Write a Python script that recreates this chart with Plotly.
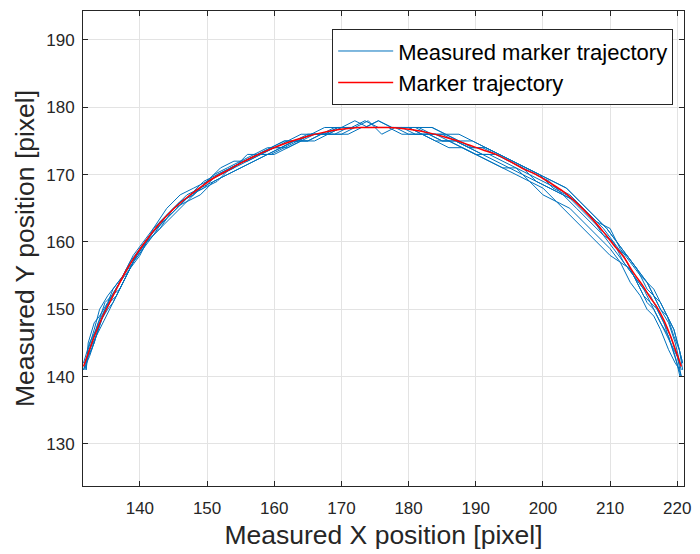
import plotly.graph_objects as go

# Red reference trajectory
red_x = [131.6, 132.5, 133.5, 134.5, 135.5, 136.5, 138, 139.5, 141, 143, 145, 147, 149, 151, 153, 155,
         157, 159, 161, 163, 165, 167, 169, 171, 173, 175, 177, 179, 181, 183, 185, 187, 189, 191, 193,
         195, 197, 199, 201, 203, 205, 207, 209, 210.5, 212, 213.5, 215, 216, 217, 218, 219, 220, 220.6]
red_y = [141.5, 144.0, 146.7, 149.0, 151.0, 153.0, 155.8, 158.2, 160.3, 162.8, 164.9, 166.6, 168.1,
         169.5, 170.6, 171.7, 172.7, 173.6, 174.4, 175.1, 175.7, 176.2, 176.6, 176.85, 177.0, 177.0,
         177.0, 176.85, 176.6, 176.2, 175.7, 175.1, 174.4, 173.7, 173.0, 172.0, 170.9, 170.0, 168.8,
         167.5, 165.8, 163.8, 161.5, 159.6, 157.8, 155.4, 153.3, 151.7, 150.3, 148.4, 146.0, 143.2, 141.5]

# Measured trajectories (x sampling A, B, C)
x_a = red_x
x_b = [131.8, 132.8, 133.8, 134.8, 135.8, 137, 138.5, 140, 141.5, 143.5, 145.5, 147.5, 149.5, 151.5,
       153.5, 155.5, 157.5, 159.5, 161.5, 163.5, 165.5, 167.5, 169.5, 171.5, 173.5, 175.5, 177.5, 179.5,
       181.5, 183.5, 185.5, 187.5, 189.5, 191.5, 193.5, 195.5, 197.5, 199.5, 201.5, 203.5, 205.5, 207.5,
       209.5, 211, 212.5, 214, 215.5, 216.5, 217.5, 218.5, 219.5, 220.3, 220.8]
x_c = [132.0, 132.3, 133.2, 134.0, 135.2, 136.0, 137.5, 139.0, 140.5, 142.0, 144.0, 146.0, 148.0, 150.0,
       152.0, 154.0, 156.0, 158.0, 160.0, 162.0, 164.0, 166.0, 168.0, 170.0, 172.0, 174.0, 176.0, 178.0,
       180.0, 182.0, 184.0, 186.0, 188.0, 190.0, 192.0, 194.0, 196.0, 198.0, 200.0, 202.0, 204.0, 206.0,
       208.0, 210.0, 211.5, 213.0, 214.5, 215.5, 216.5, 217.5, 218.7, 219.7, 220.4]

meas_y1 = [142, 145, 147, 149, 151, 153, 156, 158, 160, 163, 165, 167, 168, 170, 171, 172, 173, 174, 174,
           175, 176, 176, 177, 177, 177, 177, 177, 177, 177, 176, 176, 175, 174, 174, 173, 172, 171, 170,
           169, 167, 166, 164, 161, 160, 158, 155, 153, 152, 150, 148, 146, 143, 141]
meas_y2 = [141, 145, 148, 151, 152, 153, 156, 158, 161, 163, 165, 167, 168, 169, 171, 172, 173, 173, 174,
           175, 176, 176, 177, 177, 177, 178, 177, 177, 177, 176, 176, 175, 175, 174, 173, 172, 171, 170,
           169, 168, 166, 164, 162, 160, 158, 156, 154, 152, 151, 149, 147, 144, 142]
meas_y3 = [141, 143, 146, 148, 150, 152, 155, 158, 160, 162, 164, 166, 168, 169, 170, 171, 172, 173, 174,
           175, 175, 176, 176, 176, 177, 177, 177, 176, 176, 176, 175, 175, 174, 173, 172, 171, 170, 169,
           168, 167, 165, 163, 161, 159, 157, 155, 153, 151, 150, 148, 145, 142, 140]
meas_y4 = [142, 144, 147, 150, 152, 154, 157, 159, 161, 163, 165, 167, 169, 170, 171, 172, 173, 174, 175,
           175, 176, 177, 177, 177, 178, 177, 177, 177, 177, 177, 176, 175, 174, 174, 173, 172, 171, 170,
           168, 167, 165, 163, 161, 159, 158, 156, 153, 152, 150, 149, 146, 144, 141]
meas_y5 = [141, 144, 146, 149, 151, 152, 155, 158, 160, 162, 165, 166, 167, 169, 170, 171, 172, 173, 174,
           175, 175, 176, 176, 177, 177, 177, 177, 177, 176, 176, 175, 175, 174, 173, 173, 172, 171, 169,
           168, 167, 166, 164, 162, 160, 157, 155, 152, 151, 149, 147, 145, 143, 140]
meas_y6 = [142, 145, 148, 150, 152, 154, 156, 159, 161, 163, 165, 167, 168, 170, 171, 172, 173, 174, 175,
           175, 176, 176, 177, 177, 177, 178, 177, 177, 177, 177, 176, 176, 175, 174, 173, 172, 171, 170,
           169, 168, 166, 164, 162, 160, 158, 156, 154, 153, 151, 149, 147, 144, 142]
meas_y7 = [141, 144, 147, 150, 152, 153, 155, 157, 159, 161, 164, 166, 167, 169, 170, 171, 173, 173, 174,
           174, 175, 176, 176, 177, 177, 178, 176, 177, 177, 176, 176, 175, 174, 173, 173, 172, 171, 170,
           169, 168, 167, 165, 163, 162, 159, 157, 155, 154, 152, 150, 148, 145, 142]
meas_y8 = [142, 143, 145, 148, 150, 151, 154, 157, 159, 162, 164, 166, 167, 169, 170, 171, 172, 173, 173,
           174, 175, 175, 176, 176, 177, 177, 177, 177, 176, 176, 175, 174, 174, 173, 172, 171, 170, 169,
           167, 166, 164, 162, 160, 158, 157, 154, 152, 150, 149, 147, 144, 142, 141]
meas_y9 = [141, 145, 148, 149, 151, 153, 155, 158, 160, 162, 165, 167, 168, 169, 171, 172, 172, 173, 174,
           175, 176, 176, 176, 177, 178, 177, 177, 177, 177, 176, 175, 175, 174, 173, 172, 171, 171, 169,
           168, 166, 165, 163, 161, 159, 157, 156, 153, 151, 150, 148, 146, 143, 140]

measured = [(x_a, meas_y1), (x_b, meas_y2), (x_a, meas_y3), (x_b, meas_y4), (x_a, meas_y5),
            (x_b, meas_y6), (x_c, meas_y7), (x_c, meas_y8), (x_c, meas_y9)]

x_ticks = [140, 150, 160, 170, 180, 190, 200, 210, 220]
y_ticks = [130, 140, 150, 160, 170, 180, 190]

BLUE = "#0072BD"
RED = "#FF0000"
AX = "#262626"
FONT = "Liberation Sans, Arial, Helvetica, sans-serif"

fig = go.Figure()
for i, (xs, ys) in enumerate(measured):
    fig.add_trace(go.Scatter(x=xs, y=ys, mode="lines", line=dict(color=BLUE, width=1),
                             name="Measured marker trajectory", legendgroup="m",
                             showlegend=(i == 0)))
fig.add_trace(go.Scatter(x=red_x, y=red_y, mode="lines", line=dict(color=RED, width=1.5),
                         name="Marker trajectory", line_shape="spline"))

axis_common = dict(showline=True, linecolor=AX, linewidth=1, mirror="ticks", ticks="inside",
                   ticklen=5, tickcolor=AX, showgrid=True, gridcolor="#E3E3E3", gridwidth=1,
                   zeroline=False, tickfont=dict(family=FONT, size=17, color=AX))

fig.update_layout(
    width=700, height=554,
    margin=dict(l=83, r=9, t=11, b=65),
    paper_bgcolor="white", plot_bgcolor="white",
    font=dict(family=FONT, color=AX),
    xaxis=dict(range=[131.53, 221.0], tickvals=x_ticks, ticklabelstandoff=7,
               title=dict(text="Measured X position [pixel]", font=dict(family=FONT, size=26.5, color=AX),
                          standoff=8),
               **axis_common),
    yaxis=dict(range=[123.76, 194.3], tickvals=y_ticks, ticklabelstandoff=4,
               title=dict(text="Measured Y position [pixel]", font=dict(family=FONT, size=26.5, color=AX),
                          standoff=3),
               **axis_common),
    legend=dict(x=0.982, y=0.9617, xanchor="right", yanchor="top", bgcolor="white",
                bordercolor=AX, borderwidth=1, font=dict(family=FONT, size=22, color="black"),
                itemwidth=55, tracegroupgap=0),
    showlegend=True,
)

fig.write_html("out.html")
